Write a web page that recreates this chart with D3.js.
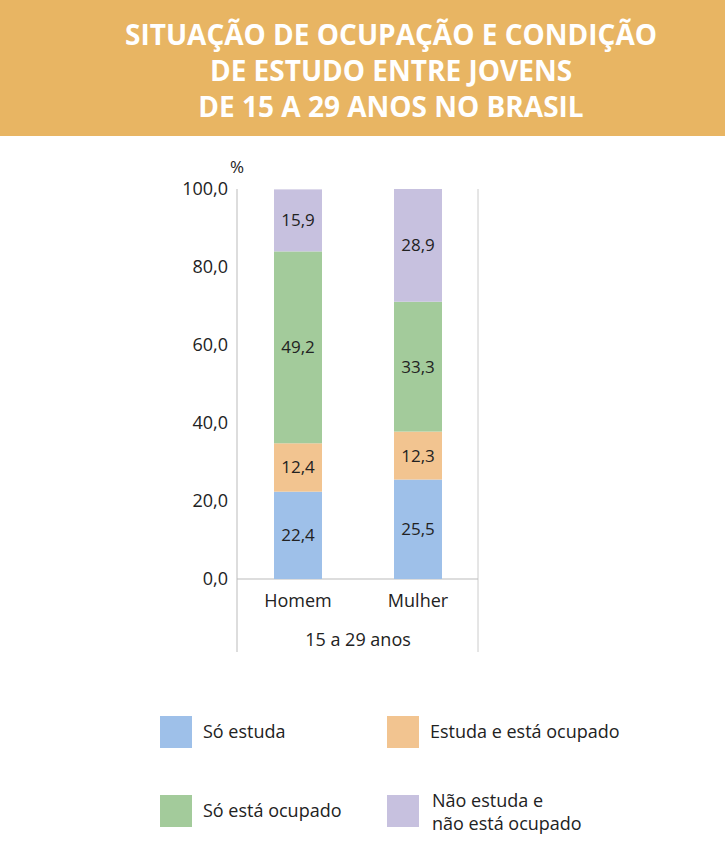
<!DOCTYPE html>
<html><head><meta charset="utf-8">
<script src="https://cdn.jsdelivr.net/npm/d3@7"></script>
<style>body{margin:0;background:#fff}</style>
</head><body>
<script>
const categories = ["Homem", "Mulher"];
const seriesNames = ["Só estuda", "Estuda e está ocupado", "Só está ocupado", "Não estuda e não está ocupado"];
const soEstuda = [22.4, 25.5];
const estudaOcupado = [12.4, 12.3];
const soOcupado = [49.2, 33.3];
const naoEstudaNaoOcupado = [15.9, 28.9];
const yTicks = [0, 20, 40, 60, 80, 100];
const colors = ["#9ec0e9", "#f2c490", "#a3cb9b", "#c7c1df"];

const W = 725, H = 848;
const svg = d3.select("body").append("svg").attr("width", W).attr("height", H)
  .style("font-family", "'Open Sans', 'DejaVu Sans', sans-serif");

svg.append("rect").attr("width", W).attr("height", 136).attr("fill", "#e8b563");
["SITUAÇÃO DE OCUPAÇÃO E CONDIÇÃO", "DE ESTUDO ENTRE JOVENS", "DE 15 A 29 ANOS NO BRASIL"].forEach((t, i) => {
  svg.append("text").attr("x", 391).attr("y", 45 + i * 36).attr("text-anchor", "middle")
    .attr("fill", "#fff").attr("font-size", 28).attr("font-weight", "bold")
    .attr("font-family", "'Open Sans', sans-serif").text(t);
});

const series = [soEstuda, estudaOcupado, soOcupado, naoEstudaNaoOcupado];
const rows = categories.map((c, i) => {
  const r = {cat: c}; series.forEach((s, k) => r["s" + k] = s[i]); return r;
});
const stack = d3.stack().keys(["s0", "s1", "s2", "s3"])(rows);

const y = d3.scaleLinear().domain([0, 100]).range([579, 189]);
const x = d3.scaleBand().domain(categories).range([238, 478]).paddingInner(0.6).paddingOuter(0.3);

svg.append("line").attr("x1", 237).attr("x2", 237).attr("y1", 189).attr("y2", 652).attr("stroke", "#bbb");
svg.append("line").attr("x1", 478).attr("x2", 478).attr("y1", 189).attr("y2", 652).attr("stroke", "#ccc");
svg.append("line").attr("x1", 237).attr("x2", 478).attr("y1", 579).attr("y2", 579).attr("stroke", "#bbb");

const fmt = v => d3.format(".1f")(v).replace(".", ",");
const yAxis = svg.append("g").attr("transform", "translate(237,0)")
  .call(d3.axisLeft(y).tickValues(yTicks).tickSize(0).tickPadding(9).tickFormat(fmt));
yAxis.select(".domain").remove();
yAxis.selectAll("text").attr("font-size", 18).attr("fill", "#222").attr("font-family", "'Open Sans', sans-serif");
svg.append("text").attr("x", 237).attr("y", 173).attr("text-anchor", "middle").attr("font-size", 17).attr("fill", "#222").text("%");

stack.forEach((layer, k) => {
  layer.forEach((d, i) => {
    svg.append("rect").attr("x", x(categories[i])).attr("width", x.bandwidth())
      .attr("y", y(d[1])).attr("height", y(d[0]) - y(d[1])).attr("fill", colors[k]);
    svg.append("text").attr("x", x(categories[i]) + x.bandwidth() / 2).attr("y", (y(d[0]) + y(d[1])) / 2 + 6)
      .attr("text-anchor", "middle").attr("font-size", 17).attr("fill", "#222").text(fmt(series[k][i]));
  });
});

const xAxis = svg.append("g").attr("transform", "translate(0,579)")
  .call(d3.axisBottom(x).tickSize(0).tickPadding(15));
xAxis.select(".domain").remove();
xAxis.selectAll("text").attr("font-size", 18).attr("fill", "#222").attr("font-family", "'Open Sans', sans-serif");
svg.append("text").attr("x", 358).attr("y", 646).attr("text-anchor", "middle").attr("font-size", 18).attr("fill", "#222").text("15 a 29 anos");

const leg = [[160, 716, 0], [387, 716, 1], [160, 795, 2], [387, 795, 3]];
leg.forEach(([lx, ly, k]) => {
  svg.append("rect").attr("x", lx).attr("y", ly).attr("width", 32).attr("height", 32).attr("fill", colors[k]);
  const t = svg.append("text").attr("font-size", 18).attr("fill", "#222");
  if (k === 3) {
    t.append("tspan").attr("x", lx + 45).attr("y", ly + 12).text("Não estuda e");
    t.append("tspan").attr("x", lx + 45).attr("y", ly + 35).text("não está ocupado");
  } else {
    t.attr("x", lx + 43).attr("y", ly + 22).text(seriesNames[k]);
  }
});
</script>
</body></html>
